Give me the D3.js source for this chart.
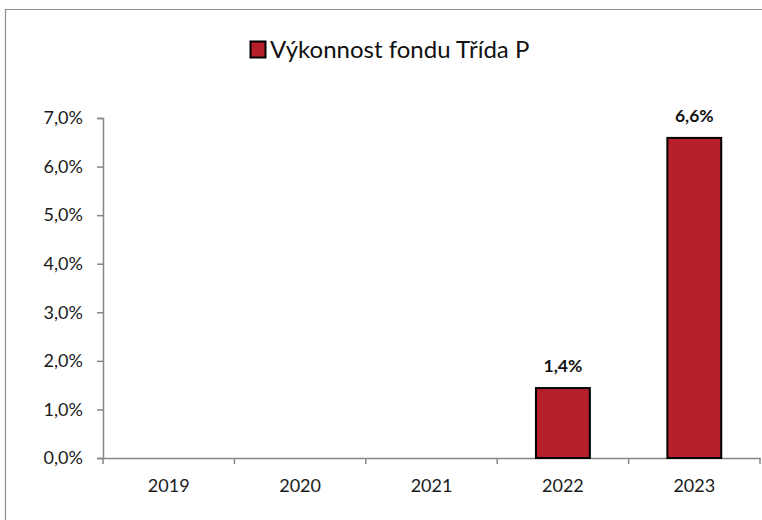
<!DOCTYPE html>
<html>
<head>
<meta charset="utf-8">
<script src="https://cdn.jsdelivr.net/npm/d3@7"></script>
<style>
  html, body { margin: 0; background: #fff; overflow: hidden; }
  svg { display: block; }
  text { font-family: Lato, "Open Sans", sans-serif; }
</style>
</head>
<body>
<div id="chart"></div>
<script>
// data
const years = ["2019", "2020", "2021", "2022", "2023"];
const values = [null, null, null, 1.44, 6.59];
const yTicks = [0, 1, 2, 3, 4, 5, 6, 7];
const seriesName = "Výkonnost fondu Třída P";

const width = 762, height = 520;
const m = {left: 103, right: 2, top: 118, bottom: 62};

const svg = d3.select("#chart").append("svg")
    .attr("width", width)
    .attr("height", height);

// outer frame: only the top and left edges are inside the picture
svg.append("path")
    .attr("d", `M5.5,${height}V9.5H${width}`)
    .attr("fill", "none").attr("stroke", "#8c8c8c").attr("stroke-width", 1.2);

const x = d3.scaleBand().domain(years)
    .range([m.left, width - m.right])
    .paddingInner(0.59).paddingOuter(0.295);

const y = d3.scaleLinear().domain([0, 7])
    .range([height - m.bottom, m.top]);

const fmt = d => d3.format(".1f")(d).replace(".", ",") + "%";

// y axis
const yAxis = svg.append("g")
    .attr("transform", `translate(${m.left},0)`)
    .call(d3.axisLeft(y).tickValues(yTicks).tickSize(6).tickPadding(14).tickFormat(fmt));

// x axis, ticks sit on the category boundaries
const xAxis = svg.append("g")
    .attr("transform", `translate(0,${y(0)})`)
    .call(d3.axisBottom(x).tickSize(0).tickPadding(21));

const step = x.step();
xAxis.selectAll(".bound")
    .data(d3.range(years.length + 1))
    .join("line")
    .attr("class", "bound")
    .attr("x1", i => m.left + i * step).attr("x2", i => m.left + i * step)
    .attr("y1", 0).attr("y2", 6);

[yAxis, xAxis].forEach(a => {
    a.select(".domain").attr("stroke", "#868686").attr("stroke-width", 1.5);
    a.selectAll("line").attr("stroke", "#868686").attr("stroke-width", 1.5);
    a.selectAll("text").attr("font-size", 18).attr("fill", "#1a1a1a")
        .style("font-family", "Lato, 'Open Sans', sans-serif");
});

const data = years.map((yr, i) => ({year: yr, v: values[i]})).filter(d => d.v != null);

svg.append("g").selectAll("rect")
    .data(data)
    .join("rect")
    .attr("x", d => x(d.year))
    .attr("y", d => y(d.v))
    .attr("width", x.bandwidth())
    .attr("height", d => y(0) - y(d.v))
    .attr("fill", "#b5202a")
    .attr("stroke", "#000")
    .attr("stroke-width", 2);

svg.append("g").selectAll("text")
    .data(data)
    .join("text")
    .attr("x", d => x(d.year) + x.bandwidth() / 2)
    .attr("y", d => y(d.v) - 16)
    .attr("text-anchor", "middle")
    .attr("font-size", 17.5)
    .attr("font-weight", "bold")
    .attr("fill", "#111")
    .text(d => fmt(d.v));

// legend
const lg = svg.append("g").attr("transform", "translate(250,41)");
lg.append("rect")
    .attr("x", 0.5).attr("y", 0.5).attr("width", 15).attr("height", 16)
    .attr("fill", "#b5202a").attr("stroke", "#000").attr("stroke-width", 2);
lg.append("text")
    .attr("x", 20).attr("y", 17)
    .attr("font-size", 24)
    .attr("fill", "#111")
    .text(seriesName);
</script>
</body>
</html>
